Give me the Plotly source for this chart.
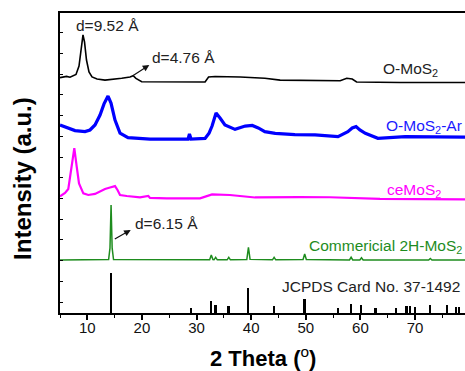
import plotly.graph_objects as go

# ---- data (2theta in degrees, stacked intensity in arbitrary offset units) ----
omos2_x = [5.0, 6.2, 6.83, 7.75, 7.93, 8.48, 8.85, 9.21, 9.49, 9.85, 10.31, 10.86, 11.78, 13.24,
           16.3, 17.82, 18.4, 18.9, 19.96, 25.1, 31.56, 32.2, 33.4, 38.0, 42.5, 45.3, 54.5,
           56.3, 57.5, 58.5, 59.3, 67.3, 79.2]
omos2_y = [10.84, 10.9, 10.86, 10.97, 10.99, 11.40, 12.08, 12.90, 12.56, 11.69, 11.11, 10.87, 10.77, 10.72,
           10.81, 10.87, 10.93, 10.80, 10.64, 10.63, 10.63, 10.87, 10.89, 10.87, 10.81, 10.72, 10.70,
           10.69, 10.81, 10.77, 10.63, 10.60, 10.60]

omos2ar_x = [5.0, 6.28, 7.75, 9.58, 10.49, 11.41, 12.33, 13.06, 13.79, 14.34, 15.07, 15.99, 17.45,
             21.48, 28.44, 28.7, 28.99, 31.56, 32.29, 32.84, 33.57, 34.3, 35.2, 37.05, 38.9, 40.2,
             41.3, 42.5, 44.4, 48.0, 51.7, 55.9, 57.7, 58.5, 59.2, 59.9, 60.9, 63.2, 68.2, 79.2]
omos2ar_y = [8.55, 8.41, 8.28, 8.23, 8.31, 8.55, 9.03, 9.57, 9.95, 9.61, 8.79, 8.16, 7.94,
             7.87, 7.87, 8.12, 7.87, 7.90, 8.16, 8.50, 9.13, 8.89, 8.55, 8.34, 8.50, 8.53,
             8.41, 8.23, 8.15, 8.09, 8.07, 7.99, 8.23, 8.41, 8.47, 8.31, 8.15, 7.91, 7.99, 7.96]

cemos2_x = [5.0, 5.92, 6.52, 6.83, 7.25, 7.62, 8.06, 8.48, 9.27, 10.18, 11.41, 12.33, 13.24, 14.16,
            15.07, 15.53, 15.99, 17.22, 19.65, 21.17, 21.48, 24.54, 30.64, 32.16, 32.84, 36.1,
            40.7, 48.9, 54.4, 63.6, 79.2]
cemos2_y = [5.10, 5.27, 5.46, 6.04, 6.86, 7.43, 6.54, 5.73, 5.25, 5.17, 5.22, 5.33, 5.46, 5.53,
            5.60, 5.41, 5.17, 5.12, 5.06, 5.12, 5.03, 5.01, 5.01, 5.14, 5.20, 5.17,
            5.05, 5.07, 5.06, 4.98, 4.96]

comm_x = [5.0, 13.9, 14.15, 14.35, 14.55, 14.8, 32.4, 32.7, 33.0, 33.2, 33.5, 33.8, 35.6, 35.9, 36.2,
          39.2, 39.5, 39.8, 43.9, 44.2, 44.5, 49.5, 49.8, 50.1, 58.0, 58.3, 58.6, 59.9, 60.2, 60.5,
          72.5, 72.8, 73.1, 79.2]
comm_y = [2.03, 2.05, 2.6, 4.69, 2.6, 2.05, 2.04, 2.27, 2.05, 2.04, 2.16, 2.04, 2.04, 2.16, 2.04,
          2.05, 2.64, 2.06, 2.04, 2.16, 2.04, 2.05, 2.32, 2.05, 2.03, 2.16, 2.03, 2.03, 2.14, 2.03,
          2.03, 2.10, 2.03, 2.03]

jcpds_pos = [14.4, 29.0, 32.7, 33.5, 35.9, 39.5, 44.2, 49.8, 56.0, 58.3, 60.2, 62.8, 66.5,
             68.5, 69.1, 70.1, 72.8, 75.9, 77.6, 78.1]
jcpds_h = [1.93, 0.24, 0.58, 0.39, 0.34, 1.21, 0.35, 0.68, 0.24, 0.43, 0.39, 0.24, 0.24,
           0.34, 0.34, 0.29, 0.39, 0.39, 0.29, 0.29]

x_ticks = [10, 20, 30, 40, 50, 60, 70]
Y_MIN, Y_MAX = -0.53, 13.96
X_MIN, X_MAX = 5.0, 79.15

FONT = "Liberation Sans, Arial, sans-serif"

fig = go.Figure()
fig.add_trace(go.Scatter(x=omos2_x, y=omos2_y, mode="lines",
                         line=dict(color="#000000", width=1.6), showlegend=False))
fig.add_trace(go.Scatter(x=omos2ar_x, y=omos2ar_y, mode="lines",
                         line=dict(color="#0000ff", width=3.2), showlegend=False))
fig.add_trace(go.Scatter(x=cemos2_x, y=cemos2_y, mode="lines",
                         line=dict(color="#ff00ff", width=2.2), showlegend=False))
fig.add_trace(go.Scatter(x=comm_x, y=comm_y, mode="lines",
                         line=dict(color="#1e8c1e", width=1.5), showlegend=False))
fig.add_trace(go.Bar(x=jcpds_pos, y=jcpds_h, base=Y_MIN, width=0.32,
                     marker=dict(color="#000000", line=dict(width=0)), showlegend=False))

ann = []
def label(text, x, y, color, anchor):
    ann.append(dict(text=text, x=x, y=y, xref="x", yref="y", xanchor=anchor, yanchor="middle",
                    showarrow=False, font=dict(family=FONT, size=15.5, color=color)))

label("d=9.52 Å", 7.56, 13.38, "#222222", "left")
label("d=4.76 Å", 21.48, 11.81, "#222222", "left")
label("d=6.15 Å", 18.42, 3.80, "#222222", "left")
label("O-MoS<sub>2</sub>", 74.5, 11.25, "#222222", "right")
label("O-MoS<sub>2</sub>-Ar", 78.9, 8.46, "#1a1aff", "right")
label("ceMoS<sub>2</sub>", 75.2, 5.37, "#ff00ff", "right")
label("Commericial 2H-MoS<sub>2</sub>", 78.9, 2.68, "#1e8c1e", "right")
label("JCPDS Card No. 37-1492", 78.6, 0.77, "#222222", "right")

for (tx, ty, hx, hy) in [(18.05, 10.88, 21.35, 11.45), (14.76, 3.0, 17.95, 3.48)]:
    ann.append(dict(x=hx, y=hy, ax=tx, ay=ty, xref="x", yref="y", axref="x", ayref="y",
                    text="", showarrow=True, arrowhead=2, arrowsize=1.1, arrowwidth=1.2,
                    arrowcolor="#111111"))

ann.append(dict(text="<b>Intensity (a.u.)</b>", x=-0.094, y=0.45, xref="paper", yref="paper",
                xanchor="center", yanchor="middle", textangle=-90, showarrow=False,
                font=dict(family=FONT, size=24, color="#000000")))
ann.append(dict(text="<b>2 Theta (</b><sup>o</sup><b>)</b>", x=0.5, y=-0.148, xref="paper", yref="paper",
                xanchor="center", yanchor="middle", showarrow=False,
                font=dict(family=FONT, size=22, color="#000000")))

fig.update_layout(
    width=465, height=371,
    margin=dict(l=60, r=0, t=13, b=58),
    paper_bgcolor="white", plot_bgcolor="white",
    annotations=ann, bargap=0,
    xaxis=dict(range=[X_MIN, X_MAX], tickvals=x_ticks, ticks="outside", ticklen=5, tickwidth=1.5,
               tickcolor="#000", showline=True, linecolor="#000", linewidth=1.5, mirror=True,
               showgrid=False, zeroline=False, ticklabelstandoff=-5,
               tickfont=dict(family=FONT, size=15, color="#111"),
               minor=dict(dtick=5, tick0=0, ticks="outside", ticklen=3, tickwidth=1.2,
                          tickcolor="#000", showgrid=False)),
    yaxis=dict(range=[Y_MIN, Y_MAX], tick0=0, dtick=1, ticks="inside", ticklen=3, tickwidth=1,
               tickcolor="#000", showticklabels=False, showline=True, linecolor="#000",
               linewidth=1.5, showgrid=False, zeroline=False),
)

fig.write_html("out.html", config={"displayModeBar": False},
               post_script="document.body.style.margin='0px';document.body.style.overflow='hidden';")
